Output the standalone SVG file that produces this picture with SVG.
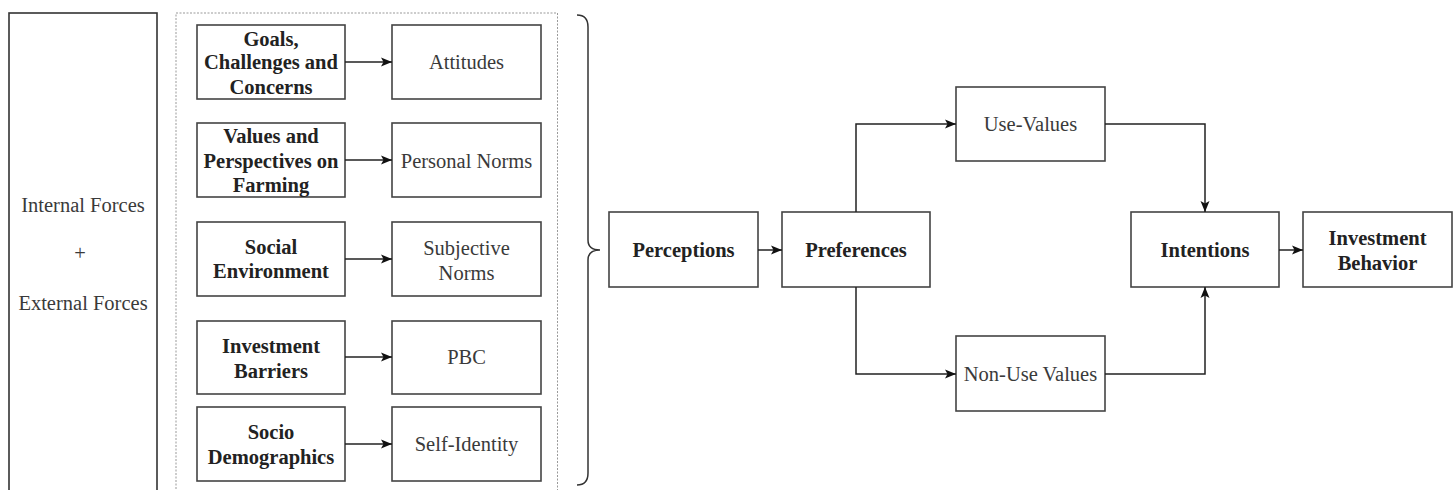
<svg xmlns="http://www.w3.org/2000/svg" width="1456" height="490" viewBox="0 0 1456 490" font-family="Liberation Serif, serif">
<style>
.box{fill:#fff;stroke:#444;stroke-width:1.6}
.b{font-family:'Liberation Serif',serif;font-weight:bold;font-size:20.5px;fill:#222;text-anchor:middle}
.r{font-family:'Liberation Serif',serif;font-size:20.5px;fill:#3a3a3a;text-anchor:middle}
.c{fill:none;stroke:#222;stroke-width:1.5}
</style>
<defs>
<marker id="ah" markerUnits="userSpaceOnUse" markerWidth="12" markerHeight="10" refX="11" refY="5" orient="auto">
<path d="M0,0.5 L11,5 L0,9.5 L2.5,5 Z" fill="#111"/>
</marker>
</defs>
<rect width="1456" height="490" fill="#fff"/>
<g id="forces">
<rect class="box" x="9" y="13" width="148" height="490" style="stroke:#333"/>
<text class="r" x="83" y="212">Internal Forces</text>
<text class="r" x="80" y="260">+</text>
<text class="r" x="83" y="310">External Forces</text>
</g>
<g id="group">
<rect x="176" y="13" width="381.5" height="490" fill="none" stroke="#999" stroke-width="1" stroke-dasharray="2,1.5"/>
</g>
<g id="goals"><rect class="box" x="197" y="25" width="148" height="74"/>
<text class="b" x="271" y="46">Goals,</text><text class="b" x="271" y="69">Challenges and</text><text class="b" x="271" y="94">Concerns</text></g>
<g id="values"><rect class="box" x="197" y="123" width="148" height="74"/>
<text class="b" x="271" y="143">Values and</text><text class="b" x="271" y="168">Perspectives on</text><text class="b" x="271" y="192">Farming</text></g>
<g id="social"><rect class="box" x="197" y="222" width="148" height="74"/>
<text class="b" x="271" y="254">Social</text><text class="b" x="271" y="278">Environment</text></g>
<g id="barriers"><rect class="box" x="197" y="321" width="148" height="73"/>
<text class="b" x="271" y="353">Investment</text><text class="b" x="271" y="378">Barriers</text></g>
<g id="socio"><rect class="box" x="197" y="407" width="148" height="74"/>
<text class="b" x="271" y="439">Socio</text><text class="b" x="271" y="464">Demographics</text></g>
<g id="attitudes"><rect class="box" x="392" y="25" width="149" height="74"/>
<text class="r" x="466.5" y="69">Attitudes</text></g>
<g id="personal"><rect class="box" x="392" y="123" width="149" height="74"/>
<text class="r" x="466.5" y="168">Personal Norms</text></g>
<g id="subjective"><rect class="box" x="392" y="222" width="149" height="74"/>
<text class="r" x="466.5" y="255">Subjective</text><text class="r" x="466.5" y="280">Norms</text></g>
<g id="pbc"><rect class="box" x="392" y="321" width="149" height="73"/>
<text class="r" x="466.5" y="364">PBC</text></g>
<g id="selfidentity"><rect class="box" x="392" y="407" width="149" height="74"/>
<text class="r" x="466.5" y="451">Self-Identity</text></g>
<g id="brace"><path d="M577,15 Q588,15 588,27 L588,240 Q588,250 600,250 Q588,250 588,260 L588,473 Q588,485 577,485" fill="none" stroke="#333" stroke-width="1.5"/></g>
<g id="perceptions"><rect class="box" x="609" y="212" width="149" height="75"/>
<text class="b" x="683.5" y="257">Perceptions</text></g>
<g id="preferences"><rect class="box" x="782" y="212" width="148" height="75"/>
<text class="b" x="856" y="257">Preferences</text></g>
<g id="usevalues"><rect class="box" x="956" y="87" width="149" height="74"/>
<text class="r" x="1030.5" y="131">Use-Values</text></g>
<g id="nonusevalues"><rect class="box" x="956" y="336" width="149" height="75"/>
<text class="r" x="1030.5" y="381">Non-Use Values</text></g>
<g id="intentions"><rect class="box" x="1131" y="212" width="148" height="75"/>
<text class="b" x="1205" y="257">Intentions</text></g>
<g id="behavior"><rect class="box" x="1303" y="212" width="149" height="75"/>
<text class="b" x="1377.5" y="245">Investment</text><text class="b" x="1377.5" y="270">Behavior</text></g>
<g id="connectors">
<path class="c" d="M345,62 H392" marker-end="url(#ah)"/>
<path class="c" d="M345,160 H392" marker-end="url(#ah)"/>
<path class="c" d="M345,259 H392" marker-end="url(#ah)"/>
<path class="c" d="M345,357 H392" marker-end="url(#ah)"/>
<path class="c" d="M345,444 H392" marker-end="url(#ah)"/>
<path class="c" d="M758,250 H782" marker-end="url(#ah)"/>
<path class="c" d="M856,212 V124 H956" marker-end="url(#ah)"/>
<path class="c" d="M856,287 V374 H956" marker-end="url(#ah)"/>
<path class="c" d="M1105,124 H1205 V212" marker-end="url(#ah)"/>
<path class="c" d="M1105,374 H1205 V287" marker-end="url(#ah)"/>
<path class="c" d="M1279,250 H1303" marker-end="url(#ah)"/>
</g>
</svg>
